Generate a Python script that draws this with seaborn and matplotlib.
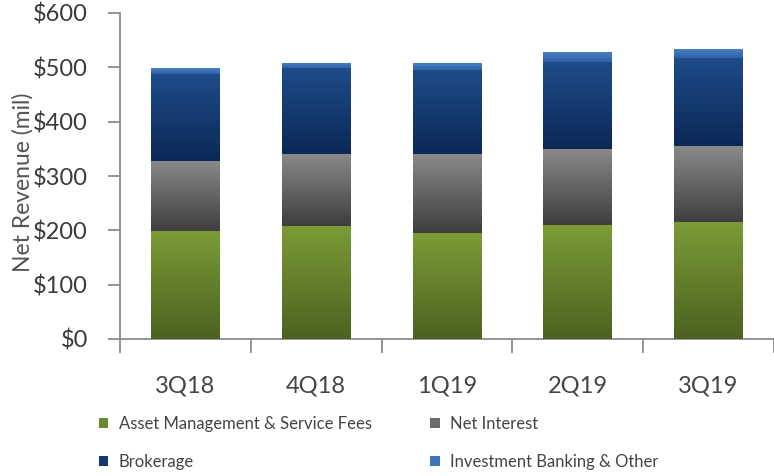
import numpy as np
import pandas as pd
import matplotlib
matplotlib.use("Agg")
import matplotlib.pyplot as plt
import seaborn as sns
from matplotlib.colors import LinearSegmentedColormap
from matplotlib.patches import Patch

quarters = ["3Q18", "4Q18", "1Q19", "2Q19", "3Q19"]
asset_mgmt = [199, 208, 195, 209, 216]
net_interest = [129, 133, 146, 140, 139]
brokerage = [160, 157, 155, 160, 162]
ib_other = [10, 10, 12, 20, 16]
series_names = ["Asset Management & Service Fees", "Net Interest", "Brokerage", "Investment Banking & Other"]
yticks = [0, 100, 200, 300, 400, 500, 600]
ytick_labels = ["$0", "$100", "$200", "$300", "$400", "$500", "$600"]

base_colors = ["#6a8a2e", "#6a6a6a", "#15396e", "#3f74bb"]
grad_colors = [("#7b9c36", "#4b6220"), ("#8a8a8a", "#3e3e3e"), ("#1e4c8a", "#0b2856"), ("#4a80c8", "#2f62a8")]

sns.set_theme(style="white")
plt.rcParams["font.family"] = ["Lato", "DejaVu Sans"]

fig = plt.figure(figsize=(7.74, 4.76), dpi=100)
ax = fig.add_axes([120 / 774, 1 - 339 / 476, 1 - 120 / 774, 326 / 476])

values = [asset_mgmt, net_interest, brokerage, ib_other]
bottom = np.zeros(len(quarters))
seg_patches = []
for name, vals, col in zip(series_names, values, base_colors):
    df = pd.DataFrame({"quarter": quarters, "value": vals})
    n_before = len(ax.patches)
    sns.barplot(data=df, x="quarter", y="value", color=col, width=0.525,
                saturation=1, ax=ax, linewidth=0, zorder=2)
    new = ax.patches[n_before:]
    for p, b in zip(new, bottom):
        p.set_y(b)
    seg_patches.append(new)
    bottom = bottom + np.array(vals)

grad = np.linspace(0, 1, 256).reshape(-1, 1)
for patches, (ctop, cbot) in zip(seg_patches, grad_colors):
    cmap = LinearSegmentedColormap.from_list("g", [cbot, ctop])
    for p in patches:
        x0, y0 = p.get_x(), p.get_y()
        w, h = p.get_width(), p.get_height()
        im = ax.imshow(grad, extent=[x0, x0 + w, y0, y0 + h], origin="lower",
                       aspect="auto", cmap=cmap, zorder=3, interpolation="bilinear")
        im.set_clip_path(p)

ax.set_xlim(-0.5, 4.47)
ax.set_ylim(0, 600)
ax.set_yticks(yticks)
ax.set_yticklabels(ytick_labels)
ax.set_xticks(range(len(quarters)))
ax.set_xticklabels(quarters)
ax.set_xticks(np.arange(-0.5, 5.0, 1.0), minor=True)

for s in ["top", "right"]:
    ax.spines[s].set_visible(False)
for s in ["left", "bottom"]:
    ax.spines[s].set_color("#8c8c8c")
    ax.spines[s].set_linewidth(1.3)

ax.tick_params(axis="y", which="major", direction="out", length=9, width=1.3,
               color="#8c8c8c", labelsize=17, labelcolor="#3a3a3a", pad=14, left=True)
ax.tick_params(axis="x", which="major", length=0, labelsize=17, labelcolor="#444444", pad=26)
ax.tick_params(axis="x", which="minor", direction="out", length=10, width=1.3,
               color="#8c8c8c", bottom=True)

ax.set_xlabel("")
ax.set_ylabel("Net Revenue (mil)", fontsize=16.5, color="#555555")
ax.yaxis.set_label_coords(-0.132, 0.48)
ax.grid(False)

handles = [Patch(facecolor=c, edgecolor="none") for c in base_colors]
order = [0, 2, 1, 3]
leg = fig.legend([handles[i] for i in order], [series_names[i] for i in order],
                 loc="upper left", bbox_to_anchor=(84 / 774, 1 - 401 / 476),
                 ncol=2, frameon=False, fontsize=12, handlelength=0.55, handleheight=0.55,
                 handletextpad=0.65, columnspacing=3.5, labelspacing=1.3)
for t in leg.get_texts():
    t.set_color("#444444")

fig.savefig("out.png", dpi=100)
